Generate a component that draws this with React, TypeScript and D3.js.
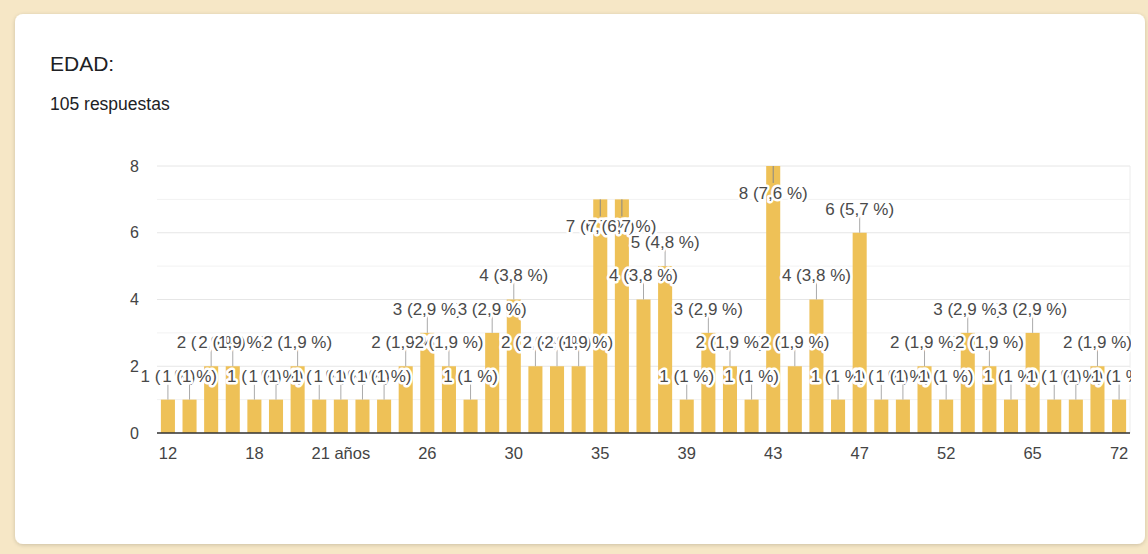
import React from "react";
import * as d3 from "d3";

const TITLE = "EDAD:";
const SUBTITLE = "105 respuestas";
const categories = ["12","13","14","15","18","19","20","21","21 años","22","23","24","26","27","28","29","30","31","32","33","35","36","37","38","39","40","41","42","43","44","45","46","47","48","49","50","52","54","58","60","65","67","68","70","72"];
const counts = [1,1,2,2,1,1,2,1,1,1,1,2,3,2,1,3,4,2,2,2,7,7,4,5,1,3,2,1,8,2,4,1,6,1,1,2,1,3,2,1,3,1,1,2,1];
const yTicks = [0, 2, 4, 6, 8];
const total = 105;

const W = 1148, H = 554;
const FONT = "Arial, 'Liberation Sans', sans-serif";

function pct(v: number) {
  const p = Math.round((v / total) * 1000) / 10;
  return String(p).replace(".", ",");
}

export default function App() {
  const x = d3.scaleBand<string>().domain(categories).range([157, 1130]).paddingInner(0.35).paddingOuter(0.18);
  const y = d3.scaleLinear().domain([0, 8]).range([433, 166]);
  const gridVals = d3.range(0, 9);
  const bw = x.bandwidth();
  const labelFs = 17;

  return (
    <div style={{ position: "absolute", left: 0, top: 0, width: W, height: H }}>
      <svg width={W} height={H} style={{ display: "block" }}>
        <defs>
          <filter id="sh" x="-5%" y="-5%" width="110%" height="110%">
            <feGaussianBlur in="SourceAlpha" stdDeviation="2" />
            <feOffset dx="0" dy="1" result="b" />
            <feComponentTransfer><feFuncA type="linear" slope="0.18" /></feComponentTransfer>
            <feMerge><feMergeNode /><feMergeNode in="SourceGraphic" /></feMerge>
          </filter>
          <clipPath id="lblclip"><rect x={0} y={0} width={1131} height={H} /></clipPath>
        </defs>
        <rect x={0} y={0} width={W} height={H} fill="#f6e7c6" />
        <rect x={15} y={14} width={1130} height={530} rx={8} fill="#ffffff" filter="url(#sh)" />
        <text x={50} y={71} fontFamily={FONT} fontSize={21} fill="#202124">{TITLE}</text>
        <text x={50} y={110} fontFamily={FONT} fontSize={17.5} fill="#202124">{SUBTITLE}</text>

        {gridVals.map((g) => (
          <line key={g} x1={157} x2={1130} y1={y(g)} y2={y(g)} stroke={g % 2 === 0 ? "#e6e6e6" : "#f2f2f2"} strokeWidth={1} />
        ))}
        <line x1={1130} x2={1130} y1={y(8)} y2={y(0)} stroke="#ececec" />
        {yTicks.map((t) => (
          <text key={t} x={139} y={y(t)} dy="0.35em" textAnchor="end" fontFamily={FONT} fontSize={16} fill="#444">{t}</text>
        ))}

        {categories.map((c, i) => (
          <rect key={c} x={x(c)} y={y(counts[i])} width={bw} height={y(0) - y(counts[i])} fill="#eec157" />
        ))}
        <line x1={157} x2={1130} y1={y(0)} y2={y(0)} stroke="#333" strokeWidth={1.5} />

        {categories.map((c, i) => i % 4 === 0 ? (
          <text key={c} x={(x(c) as number) + bw / 2} y={459} textAnchor="middle" fontFamily={FONT} fontSize={16.5} fill="#444">{c}</text>
        ) : null)}

        <g clipPath="url(#lblclip)">
          {categories.map((c, i) => {
            const v = counts[i];
            const cx = (x(c) as number) + bw / 2;
            const top = y(v);
            const inside = v >= 7;
            const ly = inside ? top + 27 : top - 24;
            return (
              <g key={c}>
                {inside ? (
                  <line x1={cx} x2={cx} y1={top} y2={top + 17} stroke="#888" strokeWidth={1} />
                ) : (
                  <line x1={cx} x2={cx} y1={top} y2={ly + 7} stroke="#aaa" strokeWidth={1} />
                )}
                <text x={cx} y={ly} dy="0.35em" textAnchor="middle" fontFamily={FONT} fontSize={labelFs}
                  fill="#4a4a4a" stroke="#ffffff" strokeWidth={5} strokeLinejoin="round" paintOrder="stroke">
                  {`${v} (${pct(v)} %)`}
                </text>
              </g>
            );
          })}
        </g>
      </svg>
    </div>
  );
}
